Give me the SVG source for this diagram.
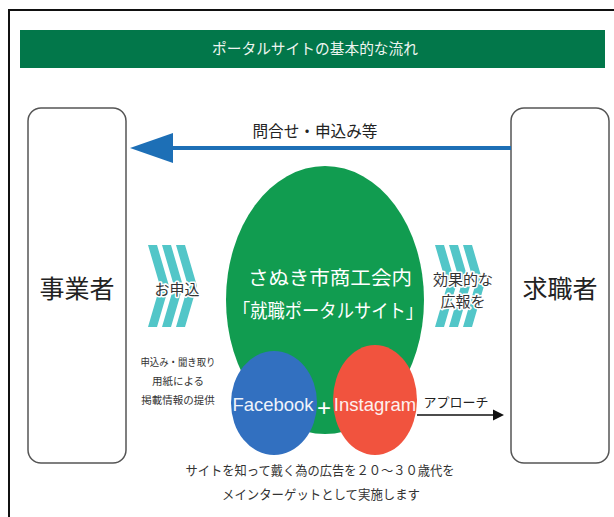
<svg xmlns="http://www.w3.org/2000/svg" width="614" height="517" viewBox="0 0 614 517">
<style>
.jp{font-family:"Noto Sans CJK JP","Noto Sans",sans-serif;}
.box{fill:#fff;stroke:#555;stroke-width:1.5;}
.chev{fill:#52c6c8;}
.halo{paint-order:stroke;stroke:#fff;stroke-width:3;stroke-linejoin:round;}
</style>
<rect x="0" y="0" width="614" height="517" fill="#fff"/>
<path d="M9,517 V10 H614" fill="none" stroke="#111" stroke-width="2"/>
<g id="header">
<rect x="20" y="30" width="585" height="38" fill="#02774a"/>
<text class="jp" x="315" y="54" font-size="15" fill="#eef5f0" text-anchor="middle" textLength="206" lengthAdjust="spacingAndGlyphs">ポータルサイトの基本的な流れ</text>
</g>
<g id="jigyosha">
<rect class="box" x="28" y="108" width="98" height="355" rx="13"/>
<text class="jp" x="77" y="298" font-size="25" fill="#222" text-anchor="middle">事業者</text>
</g>
<g id="kyushokusha">
<rect class="box" x="511" y="108" width="98" height="355" rx="13"/>
<text class="jp" x="560" y="298" font-size="25" fill="#222" text-anchor="middle">求職者</text>
</g>
<g id="portal">
<ellipse cx="325" cy="300" rx="99" ry="134" fill="#119c50"/>
<text class="jp" x="330" y="285" font-size="19" fill="#fff" text-anchor="middle" textLength="164" lengthAdjust="spacingAndGlyphs">さぬき市商工会内</text>
<text class="jp" x="328" y="318" font-size="19" fill="#fff" text-anchor="middle" textLength="190" lengthAdjust="spacingAndGlyphs">「就職ポータルサイト」</text>
</g>
<g id="facebook">
<ellipse cx="274" cy="403" rx="43" ry="52" fill="#3270c0"/>
<text x="273" y="411" font-family="Liberation Sans, Arial, sans-serif" font-size="18.5" fill="#eef3fb" text-anchor="middle">Facebook</text>
</g>
<g id="instagram">
<ellipse cx="375" cy="400" rx="42" ry="55" fill="#f1533e"/>
<text x="375" y="411" font-family="Liberation Sans, Arial, sans-serif" font-size="18.5" fill="#fdf0ee" text-anchor="middle">Instagram</text>
</g>
<text x="324" y="416" font-family="Liberation Sans, Arial, sans-serif" font-size="24" fill="#fff" text-anchor="middle">+</text>
<g id="connectors">
<line x1="170" y1="148" x2="511" y2="148" stroke="#1d6fb6" stroke-width="4"/>
<polygon points="130,148 173,133 173,163" fill="#1d6fb6"/>
<line x1="417" y1="415" x2="495" y2="415" stroke="#111" stroke-width="1.5"/>
<polygon points="504,415 493,409.5 493,420.5" fill="#111"/>
<g id="chev-left" class="chev">
<polygon points="148,245 157,245 169,286 157,327 148,327 160,286"/>
<polygon points="162,245 171,245 183,286 171,327 162,327 174,286"/>
<polygon points="176,245 185,245 197,286 185,327 176,327 188,286"/>
</g>
<g id="chev-right" class="chev">
<polygon points="435,245 444,245 456,286 444,327 435,327 447,286"/>
<polygon points="449,245 458,245 470,286 458,327 449,327 461,286"/>
<polygon points="463,245 472,245 484,286 472,327 463,327 475,286"/>
</g>
</g>
<text class="jp halo" x="315" y="137" font-size="16" fill="#222" text-anchor="middle" textLength="125" lengthAdjust="spacingAndGlyphs">問合せ・申込み等</text>
<text class="jp halo" x="177" y="295" font-size="15" fill="#333" text-anchor="middle">お申込</text>
<text class="jp halo" x="463" y="285" font-size="15" fill="#333" text-anchor="middle">効果的な</text>
<text class="jp halo" x="463" y="307" font-size="15" fill="#333" text-anchor="middle">広報を</text>
<g class="jp" font-size="10.5" fill="#333" text-anchor="middle">
<text x="178" y="366" textLength="75" lengthAdjust="spacingAndGlyphs">申込み・聞き取り</text>
<text x="178" y="385">用紙による</text>
<text x="178" y="404">掲載情報の提供</text>
</g>
<text class="jp" x="456" y="407" font-size="13" fill="#222" text-anchor="middle">アプローチ</text>
<g class="jp" font-size="13" fill="#333" text-anchor="middle">
<text x="320" y="475" textLength="269" lengthAdjust="spacingAndGlyphs">サイトを知って戴く為の広告を２０〜３０歳代を</text>
<text x="321" y="499" textLength="198" lengthAdjust="spacingAndGlyphs">メインターゲットとして実施します</text>
</g>
</svg>
